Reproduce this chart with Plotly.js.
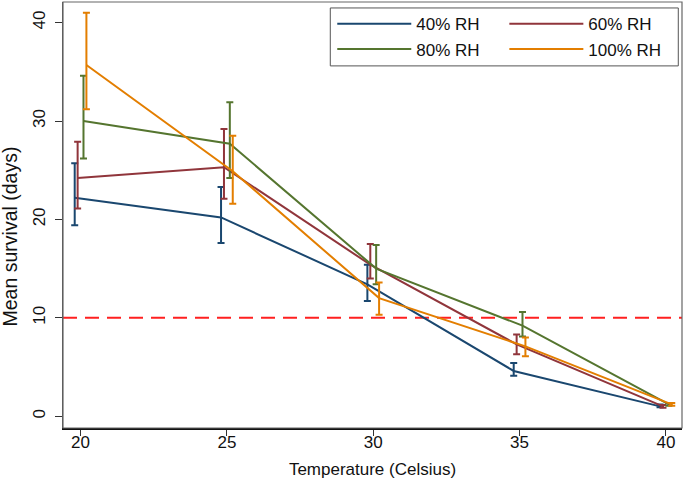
<!DOCTYPE html>
<html>
<head>
<meta charset="utf-8">
<script src="https://cdn.plot.ly/plotly-3.0.1.min.js"></script>
<style>html,body{margin:0;padding:0;background:#fff;}#chart{width:685px;height:486px;}</style>
</head>
<body>
<div id="chart"></div>
<script>
// Data
const temperatures = [20, 25, 30, 35, 40];
const seriesNames = ["40% RH", "60% RH", "80% RH", "100% RH"];
const mean40 = [22.2, 20.2, 13.4, 4.6, 1.0];
const upper40 = [25.7, 23.3, 15.4, 5.4, 1.2];
const lower40 = [19.4, 17.6, 11.7, 4.1, 0.9];
const mean60 = [24.2, 25.3, 15.4, 7.3, 1.0];
const upper60 = [27.9, 29.2, 17.5, 8.3, 1.15];
const lower60 = [21.1, 22.1, 14.0, 6.3, 0.85];
const mean80 = [30.0, 27.7, 15.0, 9.2, 1.2];
const upper80 = [34.6, 31.9, 17.4, 10.6, 1.35];
const lower80 = [26.2, 24.2, 13.4, 8.1, 1.05];
const mean100 = [35.7, 24.9, 12.0, 7.1, 1.2];
const upper100 = [41.0, 28.5, 13.6, 8.0, 1.35];
const lower100 = [31.2, 21.6, 10.3, 6.1, 1.05];
const thresholdValue = 10;
const xTickVals = [20, 25, 30, 35, 40];
const yTickVals = [0, 10, 20, 30, 40];
const yTitle = "Mean survival (days)";
const xTitle = "Temperature (Celsius)";

const means = [mean40, mean60, mean80, mean100];
const uppers = [upper40, upper60, upper80, upper100];
const lowers = [lower40, lower60, lower80, lower100];
const colors = ["#1a476f", "#90353b", "#55752f", "#e37e00"];
const dodge = [-0.2, -0.1, 0.1, 0.2];
const legendIds = ["legend", "legend2", "legend", "legend2"];

const traces = seriesNames.map((name, i) => ({
  type: "scatter",
  mode: "lines",
  name: name,
  legend: legendIds[i],
  x: temperatures.map(t => t + dodge[i]),
  y: means[i],
  line: {color: colors[i], width: 2},
  error_y: {
    type: "data",
    symmetric: false,
    array: uppers[i].map((u, k) => u - means[i][k]),
    arrayminus: lowers[i].map((l, k) => means[i][k] - l),
    color: colors[i],
    thickness: 2,
    width: 3.5
  }
}));

const font = "Liberation Sans, Arial, sans-serif";
const legendCommon = {
  orientation: "v",
  yanchor: "top", xanchor: "left",
  borderwidth: 0,
  bgcolor: "rgba(255,255,255,0)",
  itemwidth: 74,
  tracegroupgap: 0,
  font: {family: font, size: 17, color: "#111"},
  traceorder: "normal"
};
const layout = {
  width: 685,
  height: 486,
  margin: {l: 63, r: 3, t: 2, b: 58},
  paper_bgcolor: "#fff",
  plot_bgcolor: "#fff",
  font: {family: font, size: 17, color: "#111"},
  showlegend: true,
  legend: Object.assign({}, legendCommon, {x: 0.435, y: 0.99}),
  legend2: Object.assign({}, legendCommon, {x: 0.713, y: 0.99}),
  xaxis: {
    range: [19.4, 40.55],
    tickvals: xTickVals,
    ticks: "outside", ticklen: 6, tickwidth: 1, tickcolor: "#333",
    ticklabelstandoff: -8,
    showgrid: false, zeroline: false,
    showline: true, linecolor: "#111", linewidth: 2,
    tickfont: {size: 17},
    title: {text: xTitle, font: {size: 17}, standoff: 12}
  },
  yaxis: {
    range: [-1.2, 42.1],
    tickvals: yTickVals,
    tickangle: -90,
    ticks: "outside", ticklen: 7, tickwidth: 1, tickcolor: "#333",
    ticklabelstandoff: 3,
    showgrid: false, zeroline: false,
    showline: true, linecolor: "#555", linewidth: 1.5,
    tickfont: {size: 17}
  },
  annotations: [
    {text: yTitle, xref: "paper", yref: "paper", x: -0.086, y: 0.449,
     xanchor: "center", yanchor: "middle", textangle: -90, showarrow: false,
     font: {family: font, size: 19.5, color: "#111"}}
  ],
  shapes: [
    {type: "rect", xref: "paper", yref: "paper", x0: 0, x1: 1, y0: 0, y1: 1,
     line: {color: "#666", width: 1.2}, layer: "above"},
    {type: "rect", xref: "paper", yref: "paper", x0: 0.4318, x1: 0.994, y0: 0.85, y1: 0.986,
     line: {color: "#555", width: 1}, fillcolor: "rgba(0,0,0,0)", layer: "above"},
    {type: "line", xref: "paper", yref: "y", x0: 0, x1: 1, y0: thresholdValue, y1: thresholdValue,
     line: {color: "#ff2020", width: 2, dash: "14px,8px"}, layer: "below"}
  ]
};

Plotly.newPlot("chart", traces, layout, {displayModeBar: false, staticPlot: true});
</script>
</body>
</html>
